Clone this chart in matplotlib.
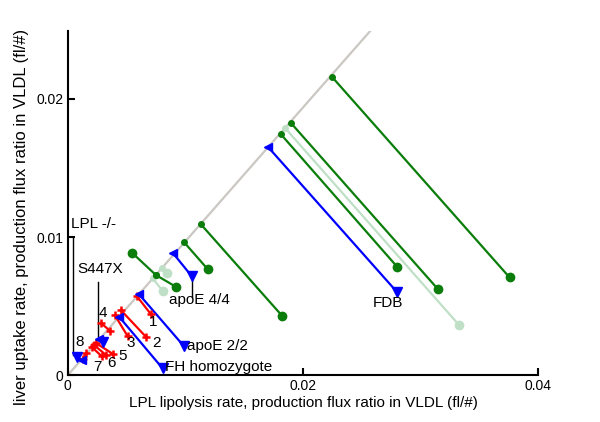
import matplotlib
matplotlib.use("Agg")
import matplotlib.pyplot as plt

plt.rcParams['font.family'] = ['Liberation Sans', 'DejaVu Sans']

# identity-like reference line
ref_x = [0.0, 0.0258]
ref_y = [0.0, 0.0250]

# dark green cases: start on diagonal -> end point
green_x0 = [0.02244, 0.01895, 0.01810, 0.01132, 0.00987, 0.00749, 0.00749]
green_y0 = [0.02162, 0.01828, 0.01746, 0.01092, 0.00964, 0.00725, 0.00725]
green_x1 = [0.03756, 0.03149, 0.02800, 0.01824, 0.01191, 0.00549, 0.00919]
green_y1 = [0.00708, 0.00621, 0.00785, 0.00428, 0.00766, 0.00884, 0.00640]

# pale green cases
pale_x0 = [0.01849, 0.00721, 0.00797]
pale_y0 = [0.01788, 0.00701, 0.00773]
pale_x1 = [0.03328, 0.00806, 0.00845]
pale_y1 = [0.00362, 0.00611, 0.00737]

# blue cases (FDB, apoE 4/4, apoE 2/2, FH homozygote, S447X, LPL -/-)
blue_x0 = [0.01705, 0.00896, 0.00604, 0.00437, 0.00266, 0.00119]
blue_y0 = [0.01650, 0.00882, 0.00587, 0.00422, 0.00259, 0.00109]
blue_x1 = [0.02797, 0.01053, 0.00987, 0.00806, 0.00298, 0.00074]
blue_y1 = [0.00604, 0.00717, 0.00210, 0.00049, 0.00239, 0.00133]

# red numbered cases 1..8
red_x0 = [0.00587, 0.00451, 0.00400, 0.00360, 0.00244, 0.00224, 0.00202, 0.00130]
red_y0 = [0.00572, 0.00471, 0.00435, 0.00320, 0.00230, 0.00217, 0.00205, 0.00120]
red_x1 = [0.00706, 0.00664, 0.00508, 0.00285, 0.00386, 0.00329, 0.00287, 0.00155]
red_y1 = [0.00442, 0.00278, 0.00283, 0.00375, 0.00152, 0.00143, 0.00138, 0.00158]
red_labels = ['1', '2', '3', '4', '5', '6', '7', '8']
red_label_x = [0.00723, 0.00757, 0.00536, 0.00298, 0.00468, 0.00374, 0.00255, 0.00102]
red_label_y = [0.00384, 0.00232, 0.00232, 0.00449, 0.00138, 0.00087, 0.00058, 0.00239]

xticks = [0, 0.02, 0.04]
xtick_labels = ['0', '0.02', '0.04']
yticks = [0, 0.01, 0.02]
ytick_labels = ['0', '0.01', '0.02']

GREEN = '#0a7d0a'
PALE = '#bfe0c6'
BLUE = '#0000ff'
RED = '#ff0000'
GREY = '#cbc7c3'

fig = plt.figure(figsize=(6.0, 4.22), dpi=100)
ax = fig.add_axes([0.113, 0.111, 0.784, 0.815])

ax.plot(ref_x, ref_y, color=GREY, lw=1.6, zorder=1)

def draw(x0, y0, x1, y1, color, m0, ms0, m1, ms1, lw=1.6, mew=1.0):
    for a, b, c, d in zip(x0, y0, x1, y1):
        ax.plot([a, c], [b, d], color=color, lw=lw, zorder=2)
        ax.plot([a], [b], marker=m0, ms=ms0, color=color, mew=mew, zorder=3)
        ax.plot([c], [d], marker=m1, ms=ms1, color=color, mew=mew, zorder=3)

draw(pale_x0, pale_y0, pale_x1, pale_y1, PALE, 'o', 4, 'o', 6)
draw(green_x0, green_y0, green_x1, green_y1, GREEN, 'o', 4, 'o', 6)
draw(red_x0, red_y0, red_x1, red_y1, RED, '+', 5.5, '+', 5.5, mew=1.8)
draw(blue_x0, blue_y0, blue_x1, blue_y1, BLUE, '<', 6, 'v', 7)

# annotation leader lines
ax.plot([0.00047, 0.00047], [0.0100, 0.00145], color='black', lw=1.0, zorder=1)
ax.plot([0.00253, 0.00253], [0.00676, 0.00278], color='black', lw=1.0, zorder=1)
ax.plot([0.01053, 0.01053], [0.00717, 0.00565], color='black', lw=1.0, zorder=1)

fs = 11
ax.text(0.00031, 0.01094, 'LPL -/-', fontsize=fs, va='center', ha='left')
ax.text(0.00085, 0.00768, 'S447X', fontsize=fs, va='center', ha='left')
ax.text(0.01123, 0.00543, 'apoE 4/4', fontsize=fs, va='center', ha='center')
ax.text(0.01013, 0.00210, 'apoE 2/2', fontsize=fs, va='center', ha='left')
ax.text(0.00826, 0.00058, 'FH homozygote', fontsize=fs, va='center', ha='left')
ax.text(0.02723, 0.00522, 'FDB', fontsize=fs, va='center', ha='center')
for lab, lx, ly in zip(red_labels, red_label_x, red_label_y):
    ax.text(lx, ly, lab, fontsize=fs, va='center', ha='center')

ax.set_xlim(0, 0.04)
ax.set_ylim(0, 0.0249)
ax.set_xticks(xticks)
ax.set_xticklabels(xtick_labels)
ax.set_yticks(yticks)
ax.set_yticklabels(ytick_labels)
ax.tick_params(direction='in', length=5, width=1.5, labelsize=10, pad=3)
for s in ['top', 'right']:
    ax.spines[s].set_visible(False)
for s in ['left', 'bottom']:
    ax.spines[s].set_linewidth(1.5)
ax.set_xlabel('LPL lipolysis rate, production flux ratio in VLDL (fl/#)', fontsize=11, labelpad=2)
ax.set_ylabel('liver uptake rate, production flux ratio in VLDL (fl/#)', fontsize=12)
ax.yaxis.set_label_coords(-0.083, 0.46)

fig.savefig('out.png', dpi=100)
